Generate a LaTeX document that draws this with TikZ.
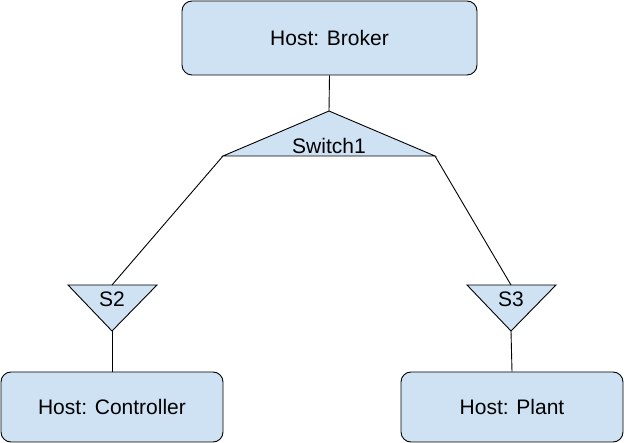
\documentclass[tikz,border=0pt]{standalone}
\usepackage{fontspec}
\setmainfont{Liberation Sans}
\usetikzlibrary{positioning}
\definecolor{hostblue}{HTML}{CFE2F3}

\tikzset{
	host/.style={draw, fill=hostblue, line width=0.9pt, rounded corners=10pt,
		minimum width=295pt, minimum height=74pt, font=\fontsize{21}{24}\selectfont},
	swtri/.style={draw, fill=hostblue, line width=0.9pt, line join=miter},
	swlabel/.style={inner sep=0pt, font=\fontsize{21}{24}\selectfont},
	link/.style={draw, line width=0.9pt}
}

\begin{document}
\begin{tikzpicture}[x=1pt, y=-1pt]
	\useasboundingbox (0,0) rectangle (624,443);

	% hosts
	\node[host] (broker) at (329.5,38) {Host: Broker};
	\node[host, minimum width=222pt, minimum height=70pt] (controller) at (112,407) {Host: Controller};
	\node[host, minimum width=222pt, minimum height=70pt] (plant) at (512,407) {Host: Plant};

	% switches
	\coordinate (sw1top) at (329,111);
	\coordinate (sw1left) at (223,156);
	\coordinate (sw1right) at (435,156);
	\filldraw[swtri] (sw1top) -- (sw1right) -- (sw1left) -- cycle;
	\node[swlabel] (sw1) at (329,146) {Switch1};

	\coordinate (s2left) at (68,285);
	\coordinate (s2right) at (157,285);
	\coordinate (s2top) at (112,285);
	\coordinate (s2bot) at (112,331);
	\filldraw[swtri] (s2left) -- (s2right) -- (s2bot) -- cycle;
	\node[swlabel] (s2) at (112,299) {S2};

	\coordinate (s3left) at (467,285);
	\coordinate (s3right) at (556,285);
	\coordinate (s3top) at (511,285);
	\coordinate (s3bot) at (511,331);
	\filldraw[swtri] (s3left) -- (s3right) -- (s3bot) -- cycle;
	\node[swlabel] (s3) at (511,299) {S3};

	% links
	\path[link] (broker.south) -- (sw1top);
	\path[link] (sw1left) -- (s2top);
	\path[link] (sw1right) -- (s3top);
	\path[link] (s2bot) -- (controller.north);
	\path[link] (s3bot) -- (plant.north);
\end{tikzpicture}
\end{document}
